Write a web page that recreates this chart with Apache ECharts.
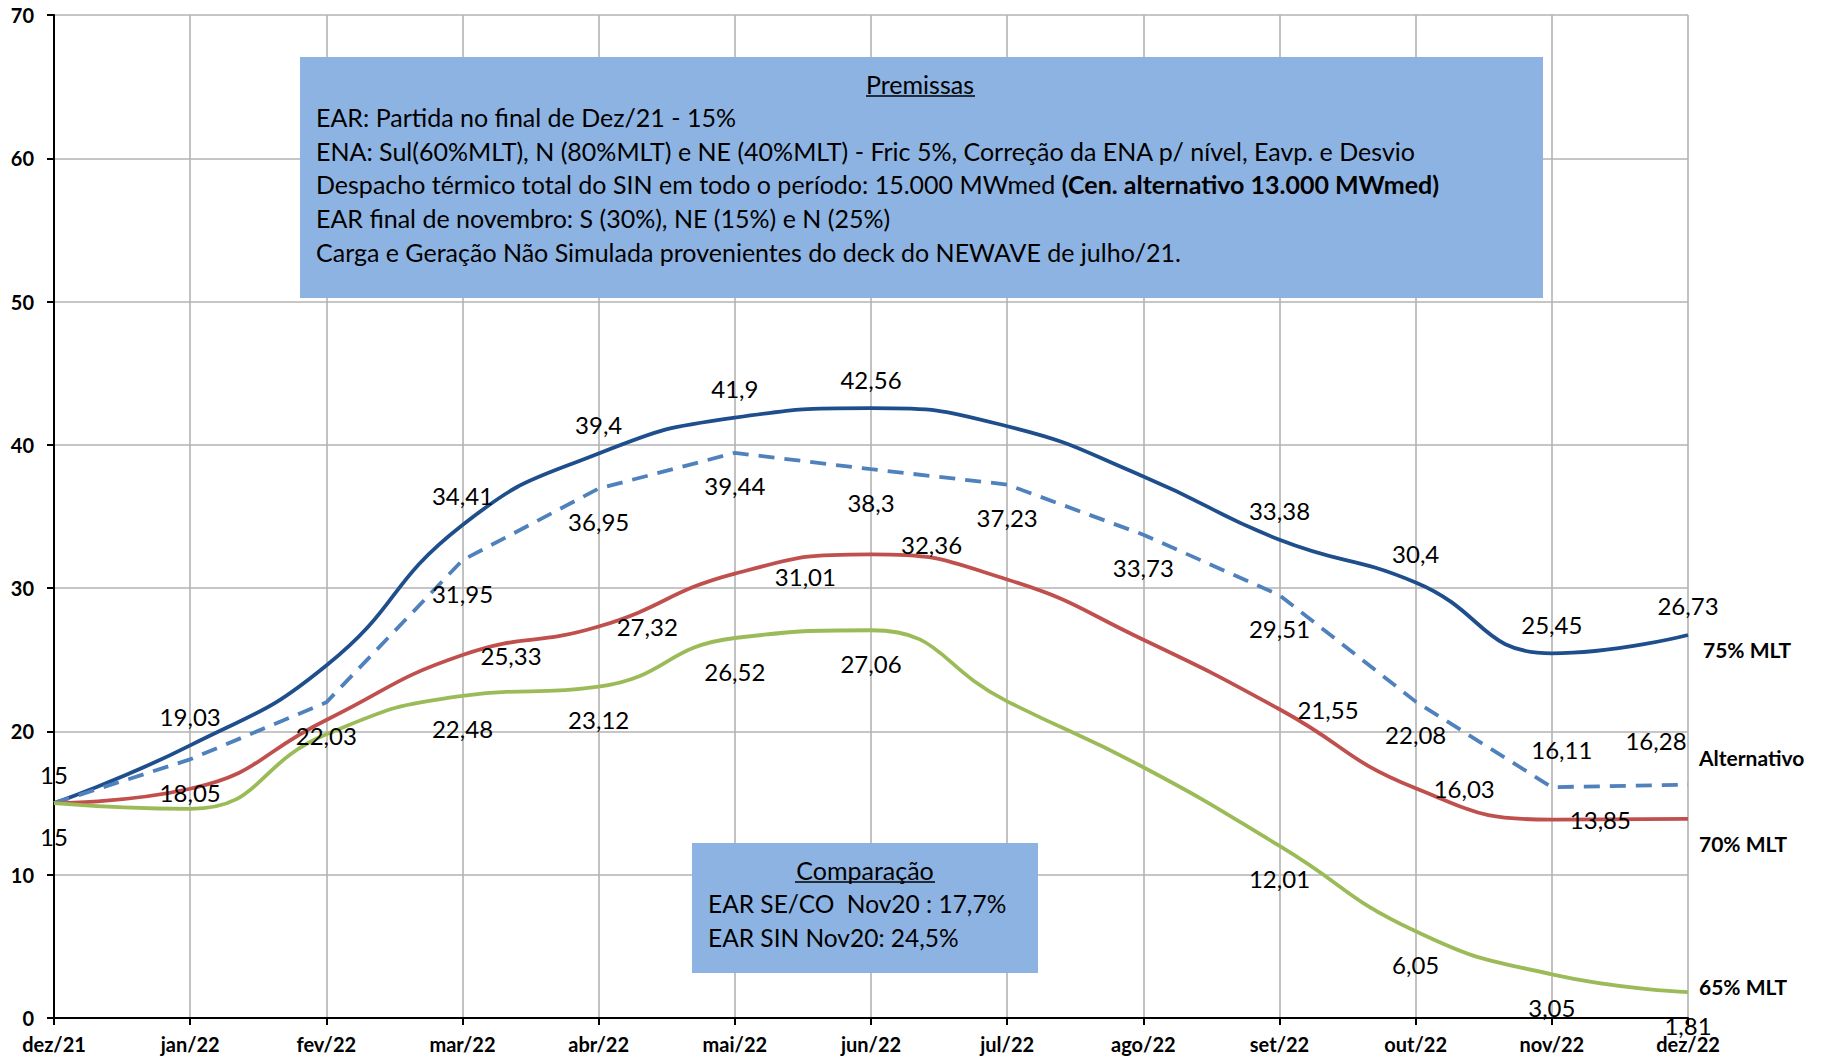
<!DOCTYPE html>
<html><head><meta charset="utf-8">
<script src="https://cdn.jsdelivr.net/npm/echarts@6/dist/echarts.min.js"></script>
<style>html,body{margin:0;padding:0;background:#fff}#c{width:1827px;height:1058px}</style>
</head><body><div id="c"></div>
<script>
// ---- data ----
const months = ['dez/21','jan/22','fev/22','mar/22','abr/22','mai/22','jun/22','jul/22','ago/22','set/22','out/22','nov/22','dez/22'];
const mlt75 = [15, 19.03, 24.6, 34.41, 39.4, 41.9, 42.56, 41.3, 37.8, 33.38, 30.4, 25.45, 26.73];
const alternativo = [15, 18.05, 22.03, 31.95, 36.95, 39.44, 38.3, 37.23, 33.73, 29.51, 22.08, 16.11, 16.28];
const mlt70 = [15, 16.0, 20.8, 25.33, 27.32, 31.01, 32.36, 30.6, 26.4, 21.55, 16.03, 13.85, 13.9];
const mlt65 = [15, 14.6, 19.8, 22.48, 23.12, 26.52, 27.06, 22.1, 17.5, 12.01, 6.05, 3.05, 1.81];
const seriesNames = ['75% MLT', 'Alternativo', '70% MLT', '65% MLT'];
// indices of points that carry a value label
const labeled75 = [0,1,3,4,5,6,9,10,11,12];
const labeledAlt = [1,2,3,4,5,6,7,8,9,10,11,12];
const labeled70 = [3,4,5,6,9,10,11];
const labeled65 = [0,3,4,5,6,9,10,11,12];
const premissasTitle = 'Premissas';
const premissasLines = [
  'EAR: Partida no final de Dez/21 - 15%',
  'ENA: Sul(60%MLT), N (80%MLT) e NE (40%MLT) - Fric 5%, Correção da ENA p/ nível, Eavp. e Desvio',
  ['Despacho térmico total do SIN em todo o período: 15.000 MWmed ', '(Cen. alternativo 13.000 MWmed)'],
  'EAR final de novembro: S (30%), NE (15%) e N (25%)',
  'Carga e Geração Não Simulada provenientes do deck do NEWAVE de julho/21.'
];
const comparacaoTitle = 'Comparação';
const comparacaoLines = ['EAR SE/CO\u00a0\u00a0Nov20 : 17,7%', 'EAR SIN Nov20: 24,5%'];

// ---- style ----
const FONT = 'Lato';
const fmt = v => String(v).replace('.', ',');
const labelOffsets = {
  alt: {11: {position: 'top', offset: [10, -5]}, 12: {position: 'top', offset: [-32, -11]}},
  r70: {5: {offset: [22, 3]}, 6: {offset: [12, -10]}}
};
function buildData(values, shown, extra) {
  return values.map((v, i) => {
    const item = {value: v, label: {show: shown.indexOf(i) >= 0}};
    if (extra && extra[i]) Object.assign(item.label, extra[i]);
    return item;
  });
}
const baseLabel = {color: '#000', fontFamily: FONT, fontSize: 24, formatter: p => fmt(p.value)};
function mkSeries(name, values, shown, color, pos, dist, extra, dashed, smooth, endOff, endDist) {
  return {
    name: name, type: 'line', data: buildData(values, shown, extra),
    smooth: smooth, symbol: 'circle', symbolSize: 0, showSymbol: true,
    lineStyle: {color: color, width: 3.8, type: dashed ? [16, 10] : 'solid', cap: 'butt'},
    itemStyle: {color: color},
    label: Object.assign({}, baseLabel, {position: pos, distance: dist}),
    endLabel: {show: true, formatter: p => p.seriesName, color: '#000', fontFamily: FONT, fontWeight: 'bold', fontSize: 21, distance: endDist, offset: endOff},
    emphasis: {disabled: true}, animation: false
  };
}

const chart = echarts.init(document.getElementById('c'), null, {renderer: 'svg'});

const graphics = [];
// Premissas box
graphics.push({type: 'rect', shape: {x: 300, y: 57, width: 1243, height: 241}, style: {fill: '#8DB3E2'}, z: 50});
graphics.push({type: 'text', x: 920, y: 84, style: {text: premissasTitle, font: '25px ' + FONT, fill: '#000', align: 'center', verticalAlign: 'middle'}, z: 51});
graphics.push({type: 'line', shape: {x1: 866, y1: 96, x2: 975, y2: 96}, style: {stroke: '#000', lineWidth: 1.5}, z: 51});
premissasLines.forEach((ln, i) => {
  const y = 117 + i * 33.7;
  if (Array.isArray(ln)) {
    graphics.push({type: 'text', x: 316, y: y, style: {text: '{n|' + ln[0] + '}{b|' + ln[1] + '}', align: 'left', verticalAlign: 'middle', fill: '#000',
      rich: {n: {fontFamily: FONT, fontSize: 25, color: '#000'}, b: {fontFamily: FONT, fontSize: 25, fontWeight: 'bold', color: '#000'}}}, z: 51});
  } else {
    graphics.push({type: 'text', x: 316, y: y, style: {text: ln, font: '25px ' + FONT, fill: '#000', align: 'left', verticalAlign: 'middle'}, z: 51});
  }
});
// Comparação box
graphics.push({type: 'rect', shape: {x: 692, y: 843, width: 346, height: 130}, style: {fill: '#8DB3E2'}, z: 50});
graphics.push({type: 'text', x: 865, y: 870, style: {text: comparacaoTitle, font: '25px ' + FONT, fill: '#000', align: 'center', verticalAlign: 'middle'}, z: 51});
graphics.push({type: 'line', shape: {x1: 795, y1: 882, x2: 935, y2: 882}, style: {stroke: '#000', lineWidth: 1.5}, z: 51});
comparacaoLines.forEach((ln, i) => {
  graphics.push({type: 'text', x: 708, y: 903 + i * 34, style: {text: ln, font: '24.5px ' + FONT, fill: '#000', align: 'left', verticalAlign: 'middle'}, z: 51});
});

chart.setOption({
  animation: false,
  backgroundColor: '#fff',
  grid: {left: 54, right: 139, top: 15, bottom: 40, containLabel: false},
  xAxis: {
    type: 'category', data: months, boundaryGap: false,
    axisLine: {lineStyle: {color: '#000', width: 2}},
    axisTick: {show: true, length: 7, lineStyle: {color: '#000', width: 2}},
    axisLabel: {color: '#000', fontFamily: FONT, fontWeight: 'bold', fontSize: 20, margin: 16, interval: 0},
    splitLine: {show: true, interval: 0, lineStyle: {color: '#b3b3b3', width: 1.6}}
  },
  yAxis: {
    type: 'value', min: 0, max: 70, interval: 10,
    axisLine: {show: true, lineStyle: {color: '#000', width: 2}},
    axisTick: {show: true, length: 7, lineStyle: {color: '#000', width: 2}},
    axisLabel: {color: '#000', fontFamily: FONT, fontWeight: 'bold', fontSize: 20, margin: 20},
    splitLine: {show: true, lineStyle: {color: '#b3b3b3', width: 1.6}}
  },
  series: [
    mkSeries(seriesNames[0], mlt75, labeled75, '#1F4E8C', 'top', 17, null, false, 0.5, [0, 15], 15),
    mkSeries(seriesNames[1], alternativo, labeledAlt, '#4F81BD', 'bottom', 21, labelOffsets.alt, true, false, [0, -27], 11),
    mkSeries(seriesNames[2], mlt70, labeled70, '#C0504D', 'right', 18, labelOffsets.r70, false, 0.5, [0, 25], 11),
    mkSeries(seriesNames[3], mlt65, labeled65, '#9BBB59', 'bottom', 21, null, false, 0.5, [0, -6], 11)
  ],
  graphic: graphics
});
</script></body></html>
